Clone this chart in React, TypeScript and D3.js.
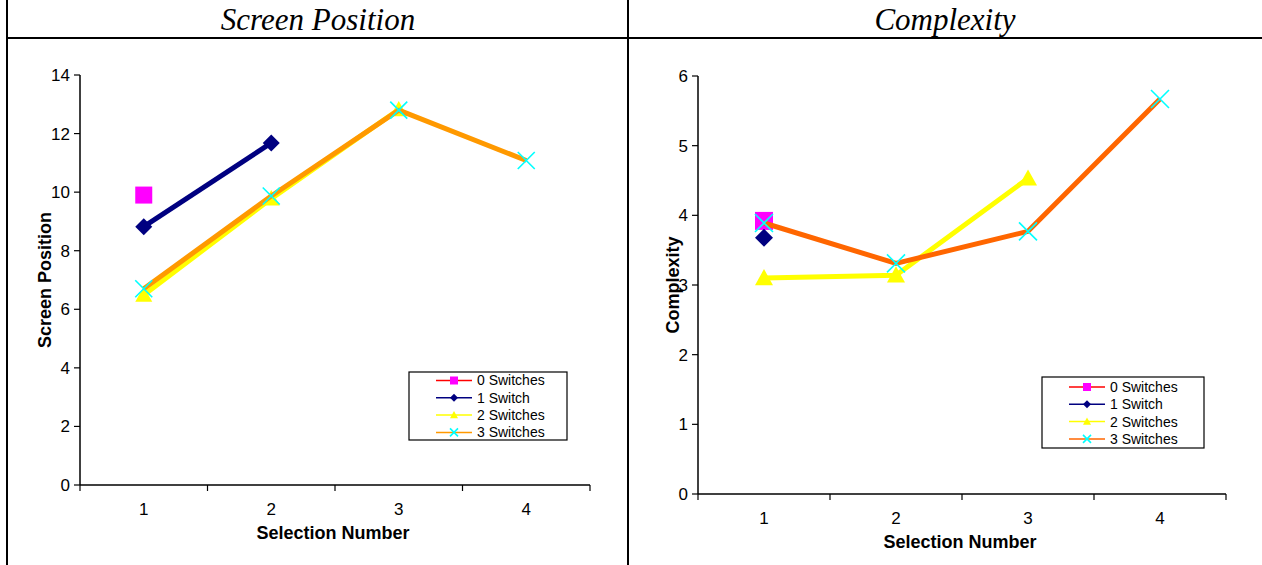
import React from "react";
import * as d3 from "d3";

const categories = [1, 2, 3, 4];
const seriesNames = ["0 Switches", "1 Switch", "2 Switches", "3 Switches"];

// Screen Position values (null = no point)
const screen0 = [9.9, null, null, null];
const screen1 = [8.82, 11.68, null, null];
const screen2 = [6.49, 9.78, 12.82, null];
const screen3 = [6.7, 9.87, 12.8, 11.08];
const screenTicks = [0, 2, 4, 6, 8, 10, 12, 14];

// Complexity values
const complex0 = [3.92, null, null, null];
const complex1 = [3.68, null, null, null];
const complex2 = [3.1, 3.14, 4.53, null];
const complex3 = [3.89, 3.31, 3.77, 5.67];
const complexTicks = [0, 1, 2, 3, 4, 5, 6];

type Val = number | null;

const markerKinds = ["square", "diamond", "triangle", "x"];
const markerFill = ["#FF00FF", "#000080", "#FFFF00", "#00FFFF"];

function Marker({ kind, x, y, s, color }: { kind: string; x: number; y: number; s: number; color: string }) {
  const h = s / 2;
  if (kind === "square") return <rect x={x - h} y={y - h} width={s} height={s} fill={color} />;
  if (kind === "diamond")
    return <path d={`M${x},${y - h}L${x + h},${y}L${x},${y + h}L${x - h},${y}Z`} fill={color} />;
  if (kind === "triangle")
    return <path d={`M${x},${y - h}L${x + h},${y + h * 0.8}L${x - h},${y + h * 0.8}Z`} fill={color} />;
  return (
    <path
      d={`M${x - h},${y - h}L${x + h},${y + h}M${x - h},${y + h}L${x + h},${y - h}`}
      stroke={color}
      strokeWidth={1.6}
      fill="none"
    />
  );
}

function Chart(props: {
  x0: number; x1: number; yTop: number; yBot: number;
  max: number; ticks: number[]; series: Val[][]; lineColors: string[];
  yLabel: string; yLabelX: number; legend: { x: number; y: number; w: number; h: number; rowY: number; };
  markerSize: number; xLabelX: number;
}) {
  const { x0, x1, yTop, yBot, max, ticks, series, lineColors } = props;
  const xb = d3.scaleBand<number>().domain(categories).range([x0, x1]);
  const y = d3.scaleLinear().domain([0, max]).range([yBot, yTop]);
  const cx = (c: number) => (xb(c) as number) + xb.bandwidth() / 2;
  const line = d3
    .line<Val>()
    .defined((d) => d !== null)
    .x((_, i) => cx(categories[i]))
    .y((d) => y(d as number));
  const bounds = [x0, ...categories.map((c) => (xb(c) as number) + xb.bandwidth())];
  const L = props.legend;
  const ff = "Arial, 'Liberation Sans', sans-serif";
  return (
    <g fontFamily={ff}>
      {/* axes */}
      <line x1={x0} x2={x0} y1={yTop} y2={yBot} stroke="#000" strokeWidth={1.5} />
      <line x1={x0} x2={x1} y1={yBot} y2={yBot} stroke="#000" strokeWidth={1.5} />
      {ticks.map((t) => (
        <g key={t}>
          <line x1={x0 - 6} x2={x0} y1={y(t)} y2={y(t)} stroke="#000" strokeWidth={1.2} />
          <text x={x0 - 10} y={y(t)} dy="0.35em" textAnchor="end" fontSize={17}>{t}</text>
        </g>
      ))}
      {bounds.map((b, i) => (
        <line key={i} x1={b} x2={b} y1={yBot} y2={yBot + 6} stroke="#000" strokeWidth={1.2} />
      ))}
      {categories.map((c) => (
        <text key={c} x={cx(c)} y={yBot + 30} textAnchor="middle" fontSize={17}>{c}</text>
      ))}
      <text x={props.xLabelX} y={yBot + 54} textAnchor="middle" fontSize={18} fontWeight="bold">Selection Number</text>
      <text
        transform={`translate(${props.yLabelX},${(yTop + yBot) / 2}) rotate(-90)`}
        textAnchor="middle"
        fontSize={18}
        fontWeight="bold"
      >
        {props.yLabel}
      </text>
      {/* series */}
      {series.map((s, si) => (
        <g key={si}>
          <path d={line(s) || ""} stroke={lineColors[si]} strokeWidth={5} fill="none" strokeLinejoin="round" />
          {s.map((v, i) =>
            v === null ? null : (
              <Marker key={i} kind={markerKinds[si]} x={cx(categories[i])} y={y(v)} s={props.markerSize} color={markerFill[si]} />
            )
          )}
        </g>
      ))}
      {/* legend */}
      <rect x={L.x} y={L.y} width={L.w} height={L.h} fill="#fff" stroke="#000" strokeWidth={1.2} />
      {seriesNames.map((n, i) => {
        const ry = L.rowY + i * 17.3;
        return (
          <g key={n}>
            <line x1={L.x + 27} x2={L.x + 63} y1={ry} y2={ry} stroke={lineColors[i]} strokeWidth={1.5} />
            <Marker kind={markerKinds[i]} x={L.x + 45} y={ry} s={8} color={markerFill[i]} />
            <text x={L.x + 68} y={ry} dy="0.35em" fontSize={14}>{n}</text>
          </g>
        );
      })}
    </g>
  );
}

export default function App() {
  return (
    <div style={{ position: "absolute", left: 0, top: 0 }}>
      <svg width={1262} height={565} style={{ display: "block", background: "#fff" }}>
        {/* table frame */}
        <line x1={7} x2={7} y1={0} y2={565} stroke="#000" strokeWidth={2} />
        <line x1={628} x2={628} y1={0} y2={565} stroke="#000" strokeWidth={2} />
        <line x1={7} x2={1262} y1={38} y2={38} stroke="#000" strokeWidth={2} />
        <text x={318} y={30} textAnchor="middle" fontFamily="'Liberation Serif', 'Times New Roman', serif" fontStyle="italic" fontSize={31}>Screen Position</text>
        <text x={945} y={30} textAnchor="middle" fontFamily="'Liberation Serif', 'Times New Roman', serif" fontStyle="italic" fontSize={31}>Complexity</text>
        <Chart
          x0={80} x1={590} yTop={75} yBot={485} max={14} ticks={screenTicks}
          series={[screen0, screen1, screen2, screen3]}
          lineColors={["#FF0000", "#000080", "#FFFF00", "#FF9900"]}
          yLabel="Screen Position" yLabelX={51}
          legend={{ x: 409, y: 372, w: 158, h: 68, rowY: 380.5 }}
          markerSize={17} xLabelX={333}
        />
        <Chart
          x0={698} x1={1226} yTop={76} yBot={494} max={6} ticks={complexTicks}
          series={[complex0, complex1, complex2, complex3]}
          lineColors={["#FF0000", "#000080", "#FFFF00", "#FF6600"]}
          yLabel="Complexity" yLabelX={679}
          legend={{ x: 1042, y: 377, w: 162, h: 71, rowY: 387 }}
          markerSize={18} xLabelX={960}
        />
      </svg>
    </div>
  );
}
